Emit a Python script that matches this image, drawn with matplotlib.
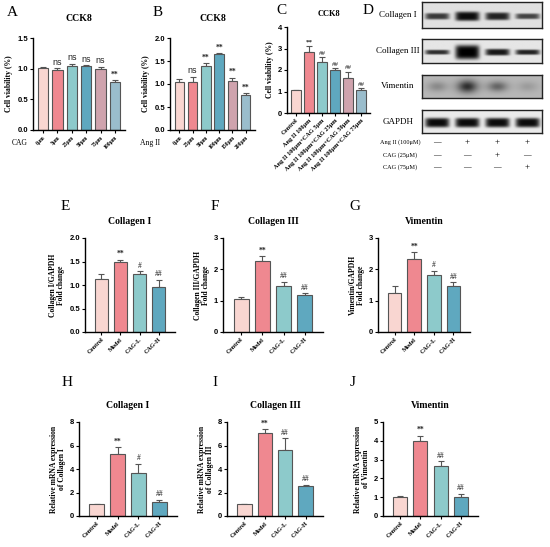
import numpy as np
import matplotlib
matplotlib.use('Agg')
import matplotlib.pyplot as plt

W, H = 550, 547

# ---- data ----
colors6 = ['#F9D6D1', '#EF8890', '#8DCACB', '#5FA8BF', '#CFA3AD', '#9ABDCC']
colors4 = colors6[:4]

a_labels = ['0μm', '5μm', '25μm', '50μm', '75μm', '100μm']
a_vals = [1.01, 0.98, 1.05, 1.04, 1.00, 0.78]
a_err = [0.01, 0.03, 0.03, 0.015, 0.03, 0.03]
a_sig = ['', 'ns', 'ns', 'ns', 'ns', '**']

b_labels = ['0μm', '25μm', '50μm', '100μm', '150μm', '200μm']
b_vals = [1.05, 1.04, 1.40, 1.66, 1.07, 0.76]
b_err = [0.05, 0.12, 0.06, 0.02, 0.07, 0.05]
b_sig = ['', 'ns', '**', '**', '**', '**']

c_labels = ['Control', 'Ang II 100μm', 'Ang II 100μm+CAG 5μm', 'Ang II 100μm+CAG 25μm',
            'Ang II 100μm+CAG 50μm', 'Ang II 100μm+CAG 75μm']
c_vals = [1.05, 2.85, 2.35, 2.00, 1.65, 1.07]
c_err = [0.04, 0.28, 0.25, 0.10, 0.27, 0.10]
c_sig = ['', '**', '##', '##', '##', '##']

groups = ['Control', 'Model', 'CAG-L', 'CAG-H']
e_vals = [1.12, 1.49, 1.24, 0.96]
e_err = [0.12, 0.05, 0.05, 0.15]
e_sig = ['', '**', '#', '##']
f_vals = [1.05, 2.28, 1.48, 1.17]
f_err = [0.08, 0.14, 0.12, 0.06]
f_sig = ['', '**', '##', '##']
g_vals = [1.23, 2.33, 1.83, 1.48]
g_err = [0.24, 0.21, 0.13, 0.10]
g_sig = ['', '**', '#', '##']
h_vals = [1.0, 5.3, 3.7, 1.2]
h_err = [0.05, 0.55, 0.75, 0.2]
h_sig = ['', '**', '#', '##']
i_vals = [1.0, 7.05, 5.6, 2.55]
i_err = [0.03, 0.35, 1.0, 0.1]
i_sig = ['', '**', '##', '##']
j_vals = [1.03, 4.0, 2.65, 1.0]
j_err = [0.03, 0.28, 0.25, 0.18]
j_sig = ['', '**', '##', '##']

blot_names = ['Collagen I', 'Collagen III', 'Vimentin', 'GAPDH']
# band darkness per lane, band height, blot background grey
blot_dark = [[0.75, 0.95, 0.85, 0.7],
             [0.8, 1.0, 0.9, 0.85],
             [0.25, 0.75, 0.45, 0.15],
             [0.95, 0.95, 0.95, 0.95]]
blot_hgt = [[0.25, 0.36, 0.3, 0.22],
            [0.2, 0.6, 0.28, 0.22],
            [0.45, 0.55, 0.45, 0.45],
            [0.42, 0.42, 0.42, 0.42]]
blot_bg = [0.88, 0.9, 0.72, 0.92]
treat_rows = ['Ang II (100μM)', 'CAG (25μM)', 'CAG (75μM)']
treat_marks = [['—', '+', '+', '+'],
               ['—', '—', '+', '—'],
               ['—', '—', '—', '+']]

SERIF = 'Liberation Serif'
SANS = 'Liberation Sans'

fig = plt.figure(figsize=(W / 100, H / 100), dpi=100)


def box(l, t, r, b):
    return [l / W, 1 - b / H, (r - l) / W, (b - t) / H]


def letter(x, y, s):
    fig.text(x / W, 1 - y / H, s, family=SERIF, fontsize=11, ha='center', va='center')


def bar_panel(rect, vals, err, sig, cols, ymax, ystep, title, ylabel, xlabels,
              xrot=45, xfs=4.5, width=0.7, pad=0.85, sigfs=6.5):
    ax = fig.add_axes(box(*rect))
    x = np.arange(len(vals))
    ax.bar(x, vals, width=width, color=cols, edgecolor='#555555', linewidth=0.8, zorder=2)
    ax.errorbar(x, vals, yerr=[np.zeros(len(err)), err], fmt='none', ecolor='#555555',
                elinewidth=0.8, capsize=2, capthick=0.8, zorder=1)
    for xi, v, e, s in zip(x, vals, err, sig):
        if s:
            if s == 'ns':
                ax.text(xi, v + e + ymax * 0.015, s, ha='center', va='bottom',
                        fontsize=sigfs, family=SANS, color='#222222')
            else:
                ax.text(xi, v + e + ymax * 0.015, s, ha='center', va='bottom',
                        fontsize=sigfs - 1, family=SERIF, color='#222222',
                        fontweight='bold' if s == '**' else 'normal')
    ax.set_xlim(-pad, len(vals) - 1 + pad)
    ax.set_ylim(0, ymax)
    ticks = np.arange(0, ymax + ystep / 2, ystep)
    ax.set_yticks(ticks)
    if ystep < 1:
        ax.set_yticklabels(['%.1f' % v for v in ticks])
    for s in ['top', 'right']:
        ax.spines[s].set_visible(False)
    for s in ['left', 'bottom']:
        ax.spines[s].set_linewidth(1.0)
    ax.tick_params(axis='y', labelsize=5.5, length=2.5, width=0.8, pad=1)
    ax.tick_params(axis='x', length=2.5, width=0.8, pad=1)
    for t in ax.get_yticklabels():
        t.set_fontweight('bold')
        t.set_family(SANS)
    ax.set_xticks(x)
    ax.set_xticklabels(xlabels, rotation=xrot, ha='right', rotation_mode='anchor',
                       fontsize=xfs, family=SERIF, fontweight='bold')
    ax.set_title(title, family=SERIF, fontweight='bold', fontsize=7, pad=10)
    ax.set_ylabel(ylabel, family=SERIF, fontweight='bold', fontsize=5.5, labelpad=3,
                  linespacing=1.0)
    return ax


# A, B, C
axA = bar_panel((33, 38, 125, 130), a_vals, a_err, a_sig, colors6, 1.5, 0.5, 'CCK8',
                'Cell viability (%)', a_labels, xfs=4.0, width=0.72, pad=0.7)
axA.set_title('CCK8', family=SERIF, fontweight='bold', fontsize=7, pad=12)
fig.text(12 / W, 1 - 143 / H, 'CAG', family=SERIF, fontsize=5.5, va='center')
letter(12, 12, 'A')

axB = bar_panel((170, 38, 255, 130), b_vals, b_err, b_sig, colors6, 2.0, 0.5, 'CCK8',
                'Cell viability (%)', b_labels, xfs=4.0, width=0.72, pad=0.7)
axB.set_title('CCK8', family=SERIF, fontweight='bold', fontsize=7, pad=12)
fig.text(140 / W, 1 - 143 / H, 'Ang II', family=SERIF, fontsize=5.5, va='center')
letter(158, 12, 'B')

axC = bar_panel((287, 27, 370, 113), c_vals, c_err, c_sig, colors6, 4, 1, 'CCK8',
                'Cell viability (%)', c_labels, xfs=4.5, width=0.72, pad=0.7, sigfs=6)
axC.set_title('CCK8', family=SERIF, fontweight='bold', fontsize=6, pad=8)
letter(281, 11, 'C')

# D - western blots
letter(368, 11, 'D')
lanes = [437, 467, 497, 527]
blot_boxes = [(2, 28), (39, 63), (75, 98), (110, 133)]
for k, (name, (t, b)) in enumerate(zip(blot_names, blot_boxes)):
    axb = fig.add_axes(box(422, t, 542, b))
    nx, ny = 240, 50
    xx = np.linspace(422, 542, nx)
    yy = np.linspace(0, 1, ny)
    X, Y = np.meshgrid(xx, yy)
    img = np.full((ny, nx), blot_bg[k])
    for lc, d, hh in zip(lanes, blot_dark[k], blot_hgt[k]):
        if k == 2:
            band = np.exp(-((X - lc) / 10.0) ** 2) * np.exp(-((Y - 0.5) / (hh / 2)) ** 2)
        else:
            band = np.exp(-((X - lc) / 12.0) ** 6) * np.exp(-((Y - 0.55) / (hh / 2)) ** 4)
        img = img - d * band * blot_bg[k]
    axb.imshow(np.clip(img, 0, 1), cmap='gray', vmin=0, vmax=1, aspect='auto',
               extent=(422, 542, 0, 1), interpolation='bilinear')
    axb.set_xticks([])
    axb.set_yticks([])
    for s in axb.spines.values():
        s.set_linewidth(1.0)
        s.set_color('#222222')
    fig.text(398 / W, 1 - ((t + b) / 2) / H, name, family=SERIF, fontsize=6.5,
             ha='center', va='center')

for r, (lab, marks) in enumerate(zip(treat_rows, treat_marks)):
    yv = [142, 155, 167][r]
    fig.text(400 / W, 1 - yv / H, lab, family=SERIF, fontsize=4.5, ha='center', va='center')
    for lc, m in zip(lanes, marks):
        fig.text(lc / W, 1 - yv / H, m, family=SERIF, fontsize=6.5 if m == '+' else 5.5,
                 ha='center', va='center')

# E, F, G
bar_panel((85, 238, 175, 332), e_vals, e_err, e_sig, colors4, 2.0, 0.5, 'Collagen I',
          'Collagen I/GAPDH\nFold change', groups, xfs=4.5)
letter(65, 206, 'E')
bar_panel((223, 238, 323, 332), f_vals, f_err, f_sig, colors4, 3, 1, 'Collagen III',
          'Collagen III/GAPDH\nFold change', groups, xfs=4.5)
letter(215, 206, 'F')
bar_panel((378, 238, 470, 332), g_vals, g_err, g_sig, colors4, 3, 1, 'Vimentin',
          'Vimentin/GAPDH\nFold change', groups, xfs=4.5)
letter(355, 206, 'G')

# H, I, J
bar_panel((79, 422, 177, 516), h_vals, h_err, h_sig, colors4, 8, 2, 'Collagen I',
          'Relative mRNA expression\nof Collagen I', groups, xfs=4.5)
letter(67, 383, 'H')
bar_panel((227, 422, 323, 516), i_vals, i_err, i_sig, colors4, 8, 2, 'Collagen III',
          'Relative mRNA expression\nof Collagen III', groups, xfs=4.5)
letter(215, 383, 'I')
bar_panel((383, 422, 478, 516), j_vals, j_err, j_sig, colors4, 5, 1, 'Vimentin',
          'Relative mRNA expression\nof Vimentin', groups, xfs=4.5)
letter(353, 383, 'J')

fig.savefig('out.png', dpi=100)
